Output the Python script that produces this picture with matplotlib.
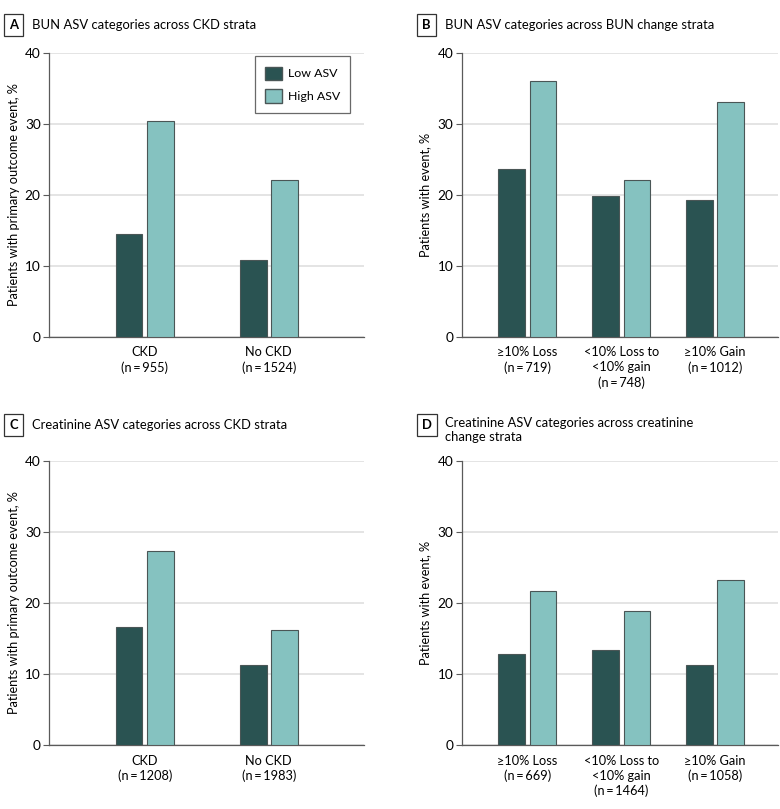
import matplotlib
matplotlib.use("Agg")
import matplotlib.pyplot as plt
from matplotlib.patches import Patch

plt.rcParams['font.family'] = ['Lato', 'DejaVu Sans']

TS = "\u2009"
# Data
cat_ckd_bun = ["CKD\n(n" + TS + "=" + TS + "955)", "No CKD\n(n" + TS + "=" + TS + "1524)"]
low_a = [14.5, 10.8]
high_a = [30.4, 22.1]

cat_bun_change = ["≥10% Loss\n(n" + TS + "=" + TS + "719)",
                  "<10% Loss to\n<10% gain\n(n" + TS + "=" + TS + "748)",
                  "≥10% Gain\n(n" + TS + "=" + TS + "1012)"]
low_b = [23.6, 19.8, 19.2]
high_b = [36.0, 22.0, 33.0]

cat_ckd_cr = ["CKD\n(n" + TS + "=" + TS + "1208)", "No CKD\n(n" + TS + "=" + TS + "1983)"]
low_c = [16.6, 11.2]
high_c = [27.3, 16.2]

cat_cr_change = ["≥10% Loss\n(n" + TS + "=" + TS + "669)",
                 "<10% Loss to\n<10% gain\n(n" + TS + "=" + TS + "1464)",
                 "≥10% Gain\n(n" + TS + "=" + TS + "1058)"]
low_d = [12.8, 13.3, 11.2]
high_d = [21.6, 18.8, 23.2]

series_names = ["Low ASV", "High ASV"]
yticks = [0, 10, 20, 30, 40]

LOW_C = "#2a5352"
HIGH_C = "#85c2c0"
EDGE = "#4a5656"
GRID = "#dcdcdc"
SPINE = "#5a5a5a"

FS_XT = 9.2
FS_YT = 9.8
FS_YL = 9.2
FS_TITLE = 9.4
FS_LEG = 8.9

W, H = 780, 809
fig = plt.figure(figsize=(7.8, 8.09), dpi=100)

def axes_px(l, r, t, b):
    return fig.add_axes([l / W, 1 - b / H, (r - l) / W, (b - t) / H])

def draw(ax, cats, low, high, xlim, width, off, ylabel):
    x = list(range(len(cats)))
    ax.bar([i - off for i in x], low, width, color=LOW_C, edgecolor=EDGE, linewidth=0.8, zorder=3, label=series_names[0])
    ax.bar([i + off for i in x], high, width, color=HIGH_C, edgecolor=EDGE, linewidth=0.8, zorder=3, label=series_names[1])
    ax.set_xlim(*xlim)
    ax.set_ylim(0, 40)
    ax.set_yticks(yticks)
    ax.set_xticks(x)
    ax.set_xticklabels(cats, fontsize=FS_XT, linespacing=1.3)
    ax.tick_params(axis='x', length=0, pad=7)
    ax.tick_params(axis='y', length=4, width=0.8, color=SPINE, labelsize=FS_YT, pad=2)
    ax.grid(axis='y', color=GRID, linewidth=1.1, zorder=0)
    ax.set_axisbelow(True)
    for s in ['top', 'right']:
        ax.spines[s].set_visible(False)
    for s in ['left', 'bottom']:
        ax.spines[s].set_color(SPINE)
        ax.spines[s].set_linewidth(0.9)
    ax.set_ylabel(ylabel, fontsize=FS_YL)

axA = axes_px(49, 364, 52.7, 336.5)
draw(axA, cat_ckd_bun, low_a, high_a, (-0.771, 1.767), 0.215, 0.126,
     "Patients with primary outcome event, %")
axA.yaxis.set_label_coords(-0.093, 0.5)

axB = axes_px(461.7, 778, 52.7, 336.5)
draw(axB, cat_bun_change, low_b, high_b, (-0.70, 2.67), 0.284, 0.167,
     "Patients with event, %")
axB.yaxis.set_label_coords(-0.098, 0.5)

axC = axes_px(49, 364, 460.7, 745)
draw(axC, cat_ckd_cr, low_c, high_c, (-0.771, 1.767), 0.215, 0.126,
     "Patients with primary outcome event, %")
axC.yaxis.set_label_coords(-0.093, 0.5)

axD = axes_px(461.7, 778, 460.7, 745)
draw(axD, cat_cr_change, low_d, high_d, (-0.70, 2.67), 0.284, 0.167,
     "Patients with event, %")
axD.yaxis.set_label_coords(-0.098, 0.5)

handles = [Patch(facecolor=LOW_C, edgecolor=EDGE), Patch(facecolor=HIGH_C, edgecolor=EDGE)]
leg = axA.legend(handles, series_names, loc='upper right', bbox_to_anchor=(0.957, 0.988),
                 borderaxespad=0.0,
                 fontsize=FS_LEG, frameon=True, fancybox=False, handlelength=1.3,
                 handleheight=1.3, borderpad=0.85, labelspacing=0.75, handletextpad=0.5)
leg.get_frame().set_edgecolor("#444444")
leg.get_frame().set_linewidth(0.9)

def letter_box(xbox, ycenter, letter):
    fig.text(xbox / W, 1 - ycenter / H, letter, fontsize=FS_TITLE, fontweight='bold',
             ha='left', va='center',
             bbox=dict(boxstyle='square,pad=0.4', facecolor='white', edgecolor='#333333', linewidth=0.9))

def panel_title(xbox, ycenter, letter, text):
    letter_box(xbox, ycenter, letter)
    fig.text((xbox + 23) / W, 1 - ycenter / H, text, fontsize=FS_TITLE, ha='left', va='center')

panel_title(9, 25, "A", "BUN ASV categories across CKD strata")
panel_title(422, 25, "B", "BUN ASV categories across BUN change strata")
panel_title(9, 425, "C", "Creatinine ASV categories across CKD strata")
letter_box(422, 425, "D")
fig.text(445 / W, 1 - 417 / H, "Creatinine ASV categories across creatinine\nchange strata",
         fontsize=FS_TITLE, ha='left', va='top', linespacing=1.15)

fig.savefig("out.png", dpi=100)
